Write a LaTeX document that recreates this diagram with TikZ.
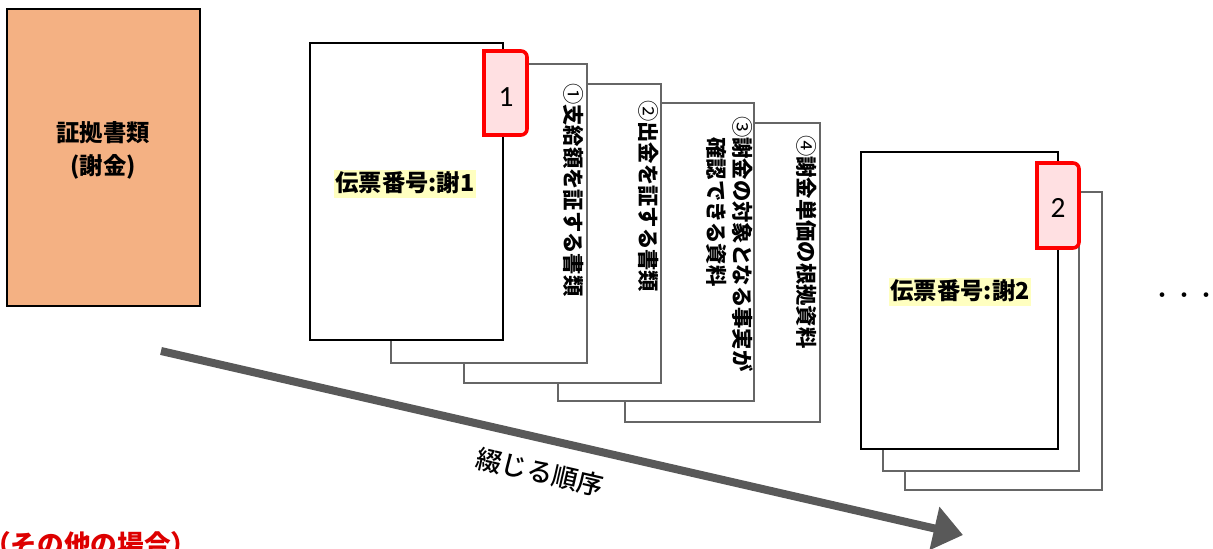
\documentclass[tikz,border=0pt]{standalone}
\usepackage{fontspec}
\setmainfont{Noto Sans CJK JP}
\newfontfamily\numfont{Carlito}
\newfontfamily\jpmed{Noto Sans CJK JP Medium}
\usetikzlibrary{arrows.meta}
\definecolor{orangefill}{HTML}{F4B183}
\definecolor{papergray}{HTML}{666666}
\definecolor{arrowgray}{HTML}{595959}
\definecolor{tabpink}{HTML}{FFE0E2}
\definecolor{hiyellow}{HTML}{FFFFC0}
\definecolor{notered}{HTML}{DD0000}
\newcommand{\circnum}[1]{{\mdseries #1}}
\begin{document}
\begin{tikzpicture}[x=0.75pt,y=-0.75pt,
  docbox/.style={draw=black, line width=2pt, fill=white},
  srcbox/.style={draw=black, line width=2pt, fill=orangefill},
  paper/.style={draw=papergray, line width=1.5pt, fill=white},
  tabshape/.style={draw=red, line width=2.7pt, fill=tabpink},
  tabnum/.style={inner sep=0pt, font=\numfont\fontsize{22}{26}\selectfont},
  vtext/.style={rotate=-90, anchor=west, inner sep=0pt, align=left,
     font=\bfseries\fontsize{16}{19.5}\selectfont},
  slip/.style={fill=hiyellow, inner xsep=1pt, inner ysep=2pt, text height=14pt, text depth=3pt,
     font=\bfseries\fontsize{17.5}{21}\selectfont},
  dotmark/.style={inner sep=0pt, font=\fontsize{16.5}{20}\selectfont},
  flowarrow/.style={draw=arrowgray, line width=6pt, -{Triangle[length=22pt,width=32pt]}}
]
\useasboundingbox (0,0) rectangle (1213,549);

% source box
\draw[srcbox] (7,9) rectangle (200,306);
\node[align=center, font=\bfseries\fontsize{17.5}{24.75}\selectfont] (src) at (103,150) {証拠書類\\(謝金)};

% set 1: back papers
\draw[paper] (625,123) rectangle (820,422);
\node[vtext] (t4) at (807,135) {\circnum{④}謝金単価の根拠資料};
\draw[paper] (558,103) rectangle (754,401);
\node[vtext] (t3) at (730,116) {\circnum{③}謝金の対象となる事実が\\\hphantom{③}確認できる資料};
\draw[paper] (464,84) rectangle (661,383);
\node[vtext] (t2) at (649,100) {\circnum{②}出金を証する書類};
\draw[paper] (391,64) rectangle (587,363);
\node[vtext] (t1) at (574,83) {\circnum{①}支給額を証する書類};
% set 1: front document
\draw[docbox] (310,43) rectangle (503,340);
\node[slip] (slip1) at (405,184) {伝票番号:謝1};
\draw[tabshape] (484,135) -- (484,51) -- (521,51) arc[start angle=90, end angle=0, radius=4.5pt]
   -- (527,129) arc[start angle=0, end angle=-90, radius=4.5pt] -- cycle;
\node[tabnum] (n1) at (506,97) {1};

% set 2
\draw[paper] (905,192) rectangle (1102,490);
\draw[paper] (883,172) rectangle (1079,471);
\draw[docbox] (861,152) rectangle (1058,449);
\node[slip] (slip2) at (960,292) {伝票番号:謝2};
\draw[tabshape] (1037,248) -- (1037,163) -- (1073,163) arc[start angle=90, end angle=0, radius=4.5pt]
   -- (1079,242) arc[start angle=0, end angle=-90, radius=4.5pt] -- cycle;
\node[tabnum] (n2) at (1058,208) {2};

% dots
\node[dotmark] (dot1) at (1162,298) {\makebox[0.3em]{・}};
\node[dotmark] (dot2) at (1184,298) {\makebox[0.3em]{・}};
\node[dotmark] (dot3) at (1206,298) {\makebox[0.3em]{・}};

% order arrow
\coordinate (a0) at (161,351);
\coordinate (a1) at (963,535);
\draw[flowarrow] (a0) -- (a1);
\node[rotate=-12.9, font=\jpmed\fontsize{19.5}{22}\selectfont] (order) at (540,472) {綴じる順序};

% bottom note
\node[anchor=base west, inner sep=0pt, text=notered, font=\bfseries\fontsize{20}{24}\selectfont] (note) at (-16,554) {（その他の場合）};
\end{tikzpicture}
\end{document}
